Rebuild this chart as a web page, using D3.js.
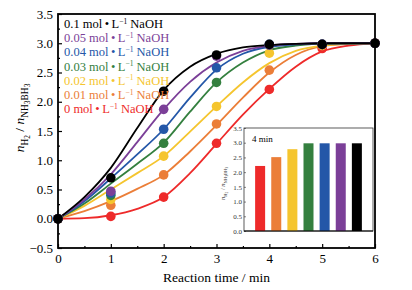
<!DOCTYPE html>
<html>
<head>
<meta charset="utf-8">
<script src="https://cdn.jsdelivr.net/npm/d3@7"></script>
<style>
  body { margin: 0; background: #fff; }
</style>
</head>
<body>
<svg width="412" height="290"></svg>
<script>
var width = 412, height = 290;
var margin = {top: 14, right: 37, bottom: 42, left: 58};
var serif = "'Liberation Serif', 'Times New Roman', serif";

// series (top of legend first)
var labels = ["0.1", "0.05", "0.04", "0.03", "0.02", "0.01", "0"];
var colors = ["#000000", "#7b3f98", "#2457a8", "#34803f", "#f5c52e", "#eb7e38", "#ee2a2a"];

// measured points
var times = [0, 1, 2, 3, 4, 5, 6];
var pts01  = [0, 0.70, 2.18, 2.80, 2.98, 2.98, 3.0];
var pts005 = [0, 0.47, 1.87, 2.78, 2.97, 2.98, 3.0];
var pts004 = [0, 0.44, 1.53, 2.58, 2.98, 2.98, 3.0];
var pts003 = [0, 0.40, 1.29, 2.33, 2.97, 2.98, 3.0];
var pts002 = [0, 0.33, 1.07, 1.92, 2.83, 2.97, 3.0];
var pts001 = [0, 0.23, 0.75, 1.62, 2.54, 2.96, 3.0];
var pts0   = [0, 0.04, 0.37, 1.29, 2.21, 2.91, 3.0];

// fitted curves, read every half minute
var fitTimes = [0, 0.5, 1, 1.5, 2, 2.5, 3, 3.5, 4, 4.5, 5, 5.5, 6];
var fit01  = [0, 0.37, 0.87, 1.55, 2.20, 2.60, 2.82, 2.93, 2.97, 2.99, 3.0, 3.0, 3.0];
var fit005 = [0, 0.33, 0.76, 1.31, 1.87, 2.34, 2.67, 2.87, 2.96, 2.99, 3.0, 3.0, 3.0];
var fit004 = [0, 0.30, 0.69, 1.10, 1.53, 2.07, 2.55, 2.82, 2.94, 2.98, 3.0, 3.0, 3.0];
var fit003 = [0, 0.26, 0.60, 0.94, 1.30, 1.83, 2.33, 2.67, 2.88, 2.96, 2.99, 3.0, 3.0];
var fit002 = [0, 0.22, 0.50, 0.78, 1.07, 1.49, 1.92, 2.33, 2.66, 2.87, 2.96, 2.99, 3.0];
var fit001 = [0, 0.13, 0.30, 0.51, 0.75, 1.15, 1.60, 2.07, 2.50, 2.80, 2.95, 2.99, 3.0];
var fit0   = [0, 0.01, 0.06, 0.17, 0.37, 0.78, 1.28, 1.78, 2.22, 2.60, 2.86, 2.96, 3.0];

var allPts = [pts01, pts005, pts004, pts003, pts002, pts001, pts0];
var allFits = [fit01, fit005, fit004, fit003, fit002, fit001, fit0];

// inset: ratio at 4 min (0 mol first)
var insetCats = ["0", "0.01", "0.02", "0.03", "0.04", "0.05", "0.1"];
var insetVals = [2.21, 2.51, 2.78, 2.98, 2.98, 2.98, 2.98];
var insetColors = ["#ee2a2a", "#eb7e38", "#f5c52e", "#34803f", "#2457a8", "#7b3f98", "#000000"];

var xTicks = [0, 1, 2, 3, 4, 5, 6];
var yTicks = [-0.5, 0, 0.5, 1, 1.5, 2, 2.5, 3, 3.5];
var insetTicks = [0, 0.5, 1, 1.5, 2, 2.5, 3, 3.5];

var svg = d3.select("svg");

var x = d3.scaleLinear().domain([0, 6]).range([margin.left, width - margin.right]);
var y = d3.scaleLinear().domain([-0.5, 3.5]).range([height - margin.bottom, margin.top]);

var fmt = function(d) { return d3.format(".1f")(d).replace("-", "\u2212"); };

// axes, ticks inward
svg.append("g")
  .attr("transform", `translate(0,${height - margin.bottom})`)
  .call(d3.axisBottom(x).tickValues(xTicks).tickSize(-4).tickPadding(6).tickFormat(d3.format("d")));
svg.append("g")
  .attr("transform", `translate(0,${height - margin.bottom})`)
  .call(d3.axisBottom(x).tickValues(d3.range(0.5, 6, 1)).tickSize(-2).tickFormat(""));

svg.append("g")
  .attr("transform", `translate(${margin.left},0)`)
  .call(d3.axisLeft(y).tickValues(yTicks).tickSize(-4).tickPadding(5).tickFormat(fmt));
svg.append("g")
  .attr("transform", `translate(${margin.left},0)`)
  .call(d3.axisLeft(y).tickValues(d3.range(-0.25, 3.5, 0.5)).tickSize(-2).tickFormat(""));

svg.selectAll(".domain").remove();
svg.selectAll(".tick line").attr("stroke", "#000").attr("stroke-width", 1.2);
svg.selectAll(".tick text").attr("font-size", 13).attr("fill", "#000");

// curves
var line = d3.line()
  .x(function(d) { return x(d[0]); })
  .y(function(d) { return y(d[1]); })
  .curve(d3.curveMonotoneX);

for (var i = allFits.length - 1; i >= 0; i--) {
  svg.append("path")
    .datum(fitTimes.map(function(t, j) { return [t, allFits[i][j]]; }))
    .attr("fill", "none")
    .attr("stroke", colors[i])
    .attr("stroke-width", 1.8)
    .attr("d", line);
}

// points, black drawn last
for (var i = allPts.length - 1; i >= 0; i--) {
  svg.append("g").selectAll("circle")
    .data(times.map(function(t, j) { return [t, allPts[i][j]]; }))
    .enter().append("circle")
    .attr("cx", function(d) { return x(d[0]); })
    .attr("cy", function(d) { return y(d[1]); })
    .attr("r", 4.8)
    .attr("fill", colors[i]);
}

// frame
svg.append("rect")
  .attr("x", margin.left).attr("y", margin.top)
  .attr("width", width - margin.left - margin.right)
  .attr("height", height - margin.top - margin.bottom)
  .attr("fill", "none").attr("stroke", "#000").attr("stroke-width", 1.8);

// legend
var legend = svg.append("g").attr("font-size", 12.5);
labels.forEach(function(l, i) {
  var t = legend.append("text")
    .attr("x", 64).attr("y", 28 + i * 14.2)
    .attr("fill", colors[i]);
  t.append("tspan").text(l + " mol\u2009\u2022\u2009L");
  t.append("tspan").attr("font-size", 7.5).attr("dy", -4.5).text("\u22121");
  t.append("tspan").attr("dy", 4.5).text(" NaOH");
});

// axis titles
svg.append("text")
  .attr("x", (margin.left + width - margin.right) / 2)
  .attr("y", 282)
  .attr("text-anchor", "middle")
  .attr("font-size", 13.5)
  .text("Reaction time / min");

function ratioLabel(sel, fs) {
  var small = fs * 0.7, tiny = fs * 0.55;
  sel.append("tspan").attr("font-style", "italic").text("n");
  sel.append("tspan").attr("font-size", small).attr("dy", fs * 0.3).text("H");
  sel.append("tspan").attr("font-size", tiny).attr("dy", fs * 0.15).text("2");
  sel.append("tspan").attr("dy", -fs * 0.45).text(" / ");
  sel.append("tspan").attr("font-style", "italic").text("n");
  sel.append("tspan").attr("font-size", small).attr("dy", fs * 0.3).text("NH");
  sel.append("tspan").attr("font-size", tiny).attr("dy", fs * 0.15).text("3");
  sel.append("tspan").attr("font-size", small).attr("dy", -fs * 0.15).text("BH");
  sel.append("tspan").attr("font-size", tiny).attr("dy", fs * 0.15).text("3");
}

var ylab = svg.append("text")
  .attr("transform", "translate(24,118) rotate(-90)")
  .attr("text-anchor", "middle")
  .attr("font-size", 13.5);
ratioLabel(ylab, 13.5);

// inset
var inset = {left: 244, right: 373, top: 128, bottom: 231};
svg.append("rect")
  .attr("x", inset.left).attr("y", inset.top)
  .attr("width", inset.right - inset.left).attr("height", inset.bottom - inset.top)
  .attr("fill", "#fff").attr("stroke", "#333").attr("stroke-width", 0.8);

var ix = d3.scaleBand().domain(insetCats).range([inset.left, inset.right])
  .paddingInner(0.38).paddingOuter(0.69);
var iy = d3.scaleLinear().domain([0, 3.5]).range([inset.bottom, inset.top]);

svg.append("g").selectAll("rect")
  .data(insetCats)
  .enter().append("rect")
  .attr("x", function(d) { return ix(d); })
  .attr("y", function(d, i) { return iy(insetVals[i]); })
  .attr("width", ix.bandwidth())
  .attr("height", function(d, i) { return iy(0) - iy(insetVals[i]); })
  .attr("fill", function(d, i) { return insetColors[i]; });

var iyAxis = svg.append("g")
  .attr("transform", `translate(${inset.left},0)`)
  .call(d3.axisLeft(iy).tickValues(insetTicks).tickSize(-2).tickPadding(2).tickFormat(d3.format(".1f")));
iyAxis.select(".domain").remove();
iyAxis.selectAll(".tick line").attr("stroke", "#333").attr("stroke-width", 0.6);
iyAxis.selectAll(".tick text").attr("font-size", 7).attr("fill", "#333");

svg.append("line")
  .attr("x1", inset.left).attr("x2", inset.right)
  .attr("y1", inset.bottom).attr("y2", inset.bottom)
  .attr("stroke", "#000").attr("stroke-width", 1.2);

svg.append("text")
  .attr("x", 252).attr("y", 142)
  .attr("font-size", 9)
  .text("4 min");

var iylab = svg.append("text")
  .attr("transform", `translate(225,${(inset.top + inset.bottom) / 2 + 4}) rotate(-90)`)
  .attr("text-anchor", "middle")
  .attr("font-size", 6.5)
  .attr("fill", "#333");
ratioLabel(iylab, 6.5);

// serif everywhere, including text made by the axes
svg.selectAll("text, g").attr("font-family", serif);
</script>
</body>
</html>
